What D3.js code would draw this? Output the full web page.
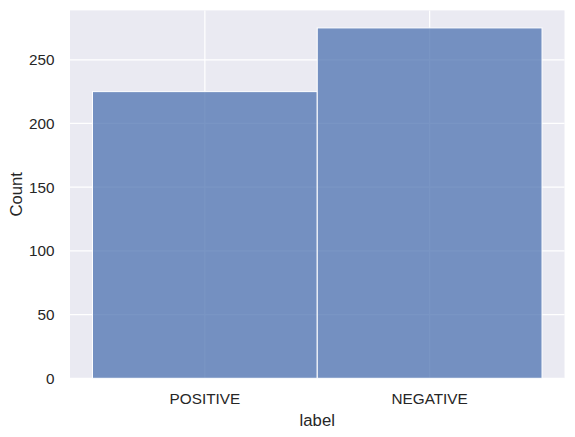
<!DOCTYPE html>
<html><head><meta charset="utf-8">
<script src="https://cdn.jsdelivr.net/npm/d3@7"></script>
<style>body{margin:0;background:#fff}svg{display:block}</style>
</head><body>
<script>
const categories = ["POSITIVE", "NEGATIVE"];
const counts = [225, 275];
const yTicks = [0, 50, 100, 150, 200, 250];
const xLabel = "label";
const yLabel = "Count";

const W = 575, H = 437;
const m = {left: 70, right: 10.5, top: 10.4, bottom: 58.7};
const iw = W - m.left - m.right, ih = H - m.top - m.bottom;
const font = "'Liberation Sans', Arial, sans-serif";

const svg = d3.select("body").append("svg").attr("width", W).attr("height", H);
const g = svg.append("g").attr("transform", `translate(${m.left},${m.top})`);

// numeric positions of categories (0,1), bins width 1
const x = d3.scaleLinear().domain([-0.6, categories.length - 1 + 0.6]).range([0, iw]);
const y = d3.scaleLinear().domain([0, d3.max(counts) * 1.05]).range([ih, 0]);

g.append("rect").attr("width", iw).attr("height", ih).attr("fill", "#eaeaf2");

// grid
g.selectAll(".gy").data(yTicks).join("line")
  .attr("x1", 0).attr("x2", iw).attr("y1", d => y(d)).attr("y2", d => y(d))
  .attr("stroke", "#fff").attr("stroke-width", 1.25);
g.selectAll(".gx").data(categories).join("line")
  .attr("y1", 0).attr("y2", ih).attr("x1", (d, i) => x(i)).attr("x2", (d, i) => x(i))
  .attr("stroke", "#fff").attr("stroke-width", 1.25);

// bars
g.selectAll(".bar").data(counts).join("rect")
  .attr("x", (d, i) => x(i - 0.5)).attr("width", (d, i) => x(i + 0.5) - x(i - 0.5))
  .attr("y", d => y(d)).attr("height", d => ih - y(d))
  .attr("fill", "#4c72b0").attr("fill-opacity", 0.75)
  .attr("stroke", "#fff").attr("stroke-width", 1);

// y axis tick labels
g.selectAll(".yt").data(yTicks).join("text")
  .attr("x", -15.5).attr("y", d => y(d)).attr("dy", "0.35em")
  .attr("text-anchor", "end").attr("font-family", font).attr("font-size", 15.3)
  .attr("fill", "#262626").text(d => d);

// x tick labels
g.selectAll(".xt").data(categories).join("text")
  .attr("x", (d, i) => x(i)).attr("y", ih + 25.8)
  .attr("text-anchor", "middle").attr("font-family", font).attr("font-size", 15.3)
  .attr("fill", "#262626").text(d => d);

// axis labels
svg.append("text").attr("x", m.left + iw / 2).attr("y", 425.5)
  .attr("text-anchor", "middle").attr("font-family", font).attr("font-size", 16.7)
  .attr("fill", "#262626").text(xLabel);
svg.append("text").attr("transform", `translate(21.5,${m.top + ih / 2}) rotate(-90)`)
  .attr("text-anchor", "middle").attr("font-family", font).attr("font-size", 16.7)
  .attr("fill", "#262626").text(yLabel);
</script>
</body></html>
